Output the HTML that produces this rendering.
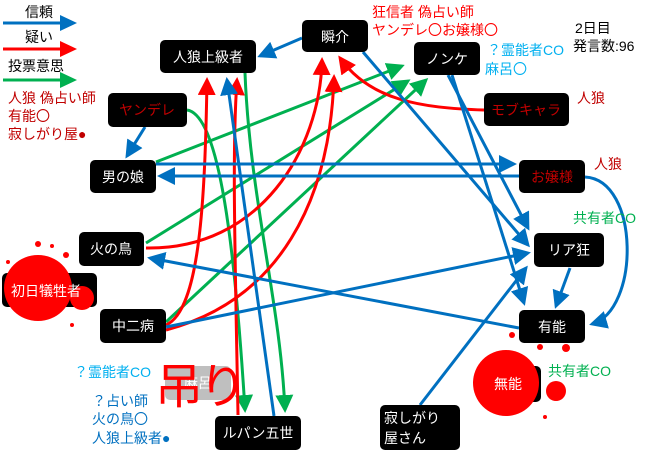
<!DOCTYPE html>
<html><head><meta charset="utf-8"><style>
body{margin:0;background:#fff;}
svg{display:block;font-family:"Liberation Sans","Noto Sans CJK JP",sans-serif;}
</style></head><body>
<svg width="660" height="454" viewBox="0 0 660 454" xmlns="http://www.w3.org/2000/svg">
<defs>
<marker id="b" markerWidth="6" markerHeight="6" refX="5" refY="3" orient="auto" markerUnits="strokeWidth"><path d="M0,0 L6,3 L0,6z" fill="#0070c0"/></marker>
<marker id="r" markerWidth="6" markerHeight="6" refX="5" refY="3" orient="auto" markerUnits="strokeWidth"><path d="M0,0 L6,3 L0,6z" fill="#ff0000"/></marker>
<marker id="g" markerWidth="6" markerHeight="6" refX="5" refY="3" orient="auto" markerUnits="strokeWidth"><path d="M0,0 L6,3 L0,6z" fill="#00b050"/></marker>
</defs>
<!-- legend -->
<g font-size="14" fill="#000">
<text x="25" y="17">信頼</text><text x="25" y="42">疑い</text><text x="8" y="71">投票意思</text>
</g>
<line x1="3" y1="23" x2="62" y2="23" stroke="#0070c0" stroke-width="3"/><path d="M60,15 L77,23 L60,31z" fill="#0070c0"/>
<line x1="3" y1="49" x2="62" y2="49" stroke="#ff0000" stroke-width="3"/><path d="M60,41 L77,49 L60,57z" fill="#ff0000"/>
<line x1="3" y1="80" x2="62" y2="80" stroke="#00b050" stroke-width="3"/><path d="M60,72 L77,80 L60,88z" fill="#00b050"/>
<g fill="none" stroke-width="3">
<!-- green -->
<path d="M187,110 C220,115 235,250 245,410" stroke="#00b050" marker-end="url(#g)"/>
<path d="M245,73 C250,200 280,300 285,410" stroke="#00b050" marker-end="url(#g)"/>
<line x1="156" y1="162" x2="402" y2="66" stroke="#00b050" marker-end="url(#g)"/>
<line x1="146" y1="243" x2="408" y2="81" stroke="#00b050" marker-end="url(#g)"/>
<line x1="166" y1="322" x2="426" y2="80" stroke="#00b050" marker-end="url(#g)"/>
<!-- red -->
<path d="M166,325 C200,310 205,200 207,80" stroke="#ff0000" marker-end="url(#r)"/>
<path d="M238,415 C235,250 232,150 237,80" stroke="#ff0000" marker-end="url(#r)"/>
<path d="M146,248 C260,250 320,150 322,60" stroke="#ff0000" marker-end="url(#r)"/>
<path d="M166,330 C280,300 330,200 334,77" stroke="#ff0000" marker-end="url(#r)"/>
<path d="M484,110 C420,108 370,100 340,58" stroke="#ff0000" marker-end="url(#r)"/>
<!-- blue -->
<line x1="302" y1="38" x2="260" y2="56" stroke="#0070c0" marker-end="url(#b)"/>
<line x1="145" y1="127" x2="127" y2="156" stroke="#0070c0" marker-end="url(#b)"/>
<line x1="274" y1="416" x2="227" y2="80" stroke="#0070c0" marker-end="url(#b)"/>
<line x1="363" y1="52" x2="528" y2="245" stroke="#0070c0" marker-end="url(#b)"/>
<line x1="448" y1="75" x2="528" y2="228" stroke="#0070c0" marker-end="url(#b)"/>
<line x1="452" y1="75" x2="524" y2="303" stroke="#0070c0" marker-end="url(#b)"/>
<line x1="156" y1="164" x2="514" y2="164" stroke="#0070c0" marker-end="url(#b)"/>
<line x1="519" y1="176" x2="160" y2="176" stroke="#0070c0" marker-end="url(#b)"/>
<path d="M585,177 C640,180 640,310 592,324" stroke="#0070c0" marker-end="url(#b)"/>
<line x1="570" y1="268" x2="556" y2="306" stroke="#0070c0" marker-end="url(#b)"/>
<line x1="166" y1="327" x2="528" y2="253" stroke="#0070c0" marker-end="url(#b)"/>
<line x1="519" y1="328" x2="150" y2="258" stroke="#0070c0" marker-end="url(#b)"/>
<line x1="420" y1="405" x2="526" y2="268" stroke="#0070c0" marker-end="url(#b)"/>
</g>
<!-- dead nodes with blood -->
<rect x="2" y="273" width="95" height="34" rx="5" fill="#000"/>
<rect x="477" y="366" width="64" height="36" rx="5" fill="#000"/>
<g fill="#ff0000">
<ellipse cx="38" cy="288" rx="34" ry="33"/><circle cx="82" cy="298" r="12"/><circle cx="38" cy="244" r="3"/><circle cx="66" cy="255" r="3"/><circle cx="72" cy="325" r="2"/><circle cx="8" cy="262" r="2"/><circle cx="52" cy="246" r="2"/>
<circle cx="506" cy="383" r="33"/><circle cx="556" cy="391" r="10"/><circle cx="512" cy="335" r="3"/><circle cx="540" cy="347" r="3"/><circle cx="566" cy="348" r="4"/><circle cx="545" cy="417" r="2"/>
</g>
<!-- nodes -->
<g font-size="14" fill="#fff" text-anchor="middle">
<rect x="160" y="40" width="96" height="33" rx="5" fill="#000"/><text x="208" y="62">人狼上級者</text>
<rect x="302" y="20" width="66" height="32" rx="5" fill="#000"/><text x="335" y="42">瞬介</text>
<rect x="414" y="42" width="66" height="33" rx="5" fill="#000"/><text x="447" y="64">ノンケ</text>
<rect x="484" y="93" width="85" height="33" rx="5" fill="#000"/><text x="526" y="115" fill="#c00000">モブキャラ</text>
<rect x="519" y="160" width="66" height="33" rx="5" fill="#000"/><text x="552" y="182" fill="#c00000">お嬢様</text>
<rect x="108" y="93" width="79" height="34" rx="5" fill="#000"/><text x="147" y="115" fill="#c00000">ヤンデレ</text>
<rect x="90" y="160" width="66" height="33" rx="5" fill="#000"/><text x="123" y="182">男の娘</text>
<rect x="79" y="232" width="65" height="34" rx="5" fill="#000"/><text x="111" y="254">火の鳥</text>
<rect x="100" y="309" width="66" height="34" rx="5" fill="#000"/><text x="133" y="331">中二病</text>
<rect x="534" y="233" width="70" height="34" rx="5" fill="#000"/><text x="569" y="255">リア狂</text>
<rect x="519" y="310" width="66" height="33" rx="5" fill="#000"/><text x="552" y="332">有能</text>
<rect x="215" y="416" width="86" height="34" rx="5" fill="#000"/><text x="258" y="438">ルパン五世</text>
<rect x="380" y="405" width="80" height="45" rx="5" fill="#000"/><text x="384" y="423" text-anchor="start">寂しがり</text><text x="384" y="443" text-anchor="start">屋さん</text>
<rect x="165" y="366" width="66" height="34" rx="5" fill="#bfbfbf"/><text x="198" y="388">麻呂</text>
<text x="46" y="296">初日犠牲者</text>
<text x="508" y="389">無能</text>
</g>
<!-- annotations -->
<g font-size="14">
<text x="8" y="103" fill="#c00000">人狼 偽占い師</text>
<text x="8" y="121" fill="#c00000">有能〇</text>
<text x="8" y="139" fill="#c00000">寂しがり屋●</text>
<text x="372" y="17" fill="#ff0000">狂信者 偽占い師</text>
<text x="372" y="35" fill="#ff0000">ヤンデレ〇お嬢様〇</text>
<text x="487" y="55" fill="#00b0f0">？霊能者CO</text>
<text x="485" y="74" fill="#00b0f0">麻呂〇</text>
<text x="575" y="33" fill="#000">2日目</text>
<text x="573" y="51" fill="#000">発言数:96</text>
<text x="577" y="103" fill="#c00000">人狼</text>
<text x="594" y="169" fill="#c00000">人狼</text>
<text x="573" y="223" fill="#00b050">共有者CO</text>
<text x="548" y="376" fill="#00b050">共有者CO</text>
<text x="74" y="377" fill="#00b0f0">？霊能者CO</text>
<text x="92" y="406" fill="#0070c0">？占い師</text>
<text x="92" y="424" fill="#0070c0">火の鳥〇</text>
<text x="92" y="443" fill="#0070c0">人狼上級者●</text>
</g>
<text x="155" y="403" font-size="48" fill="#ff0000" textLength="92">吊り</text>
</svg>
</body></html>
